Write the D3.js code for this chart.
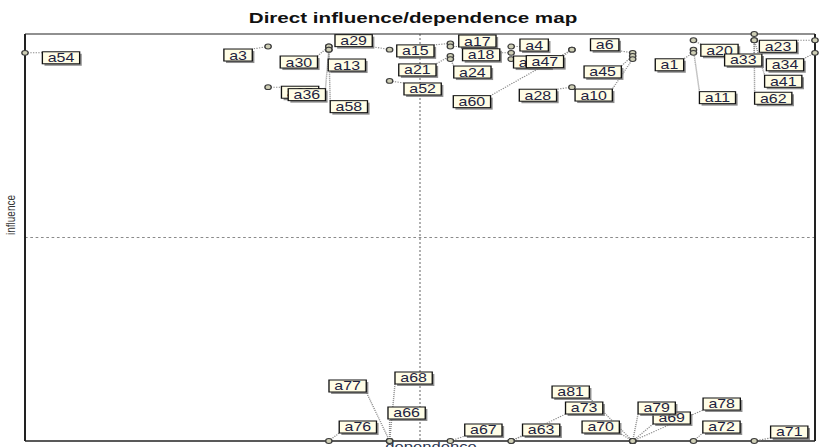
<!DOCTYPE html>
<html>
<head>
<meta charset="utf-8">
<script src="https://cdn.jsdelivr.net/npm/d3@7"></script>
<style>
  html, body { margin: 0; padding: 0; background: #ffffff; }
  svg { display: block; }
  text { font-family: "Liberation Sans", Arial, sans-serif; }
</style>
</head>
<body>
<div id="chart"></div>
<script>
// Variables of the direct influence/dependence map (draw order = array order)
const labels = [
  "a54", "a3", "a29", "a30", "a13", "a35", "a36", "a58", "a52",
  "a15", "a17", "a21", "a24", "a4", "a18", "a44", "a47", "a60", "a28",
  "a6", "a45", "a10", "a20", "a11", "a1", "a33", "a41", "a62", "a23", "a34",
  "a76", "a77", "a68", "a66", "a67", "a63", "a73", "a81", "a70", "a69", "a79", "a78", "a72", "a71"
];
// Direct dependence (x) of each variable
const dependence = [
  0, 4, 6, 5, 5, 4, 5, 5, 6,
  7, 7, 7, 7, 8, 8, 8, 9, 9, 9,
  10, 10, 10, 11, 11, 11, 12, 12, 12, 13, 13,
  5, 6, 6, 6, 7, 8, 8, 10, 10, 10, 10, 10, 11, 12
];
// Direct influence (y) of each variable
const influence = [
  124, 126, 125, 126, 126, 113, 125, 125, 115,
  127, 126, 123, 122, 126, 124, 122, 125, 125, 113,
  124, 123, 122, 128, 125, 124, 130, 128, 128, 128, 124,
  0, 0, 0, 0, 0, 0, 0, 0, 0, 0, 0, 0, 0, 0
];
const dependenceDomain = [0, 13];
const influenceDomain = [0, 130];

// Label placement: offset of each label centre from its point (px)
const labelDx = [
  36, -30, -36, -30, 18, 32, -22, 20, 33,
  -35, 27, -33, 22, 23, -30, 21, -27, -100, -34,
  -28, -30, -39, 26, 24, -24, -11, 29, 19, -37, -30,
  29, -42, 24, 17, 33, 30, 73, -62, -32, 39, 24, 89, 28, 35
];
const labelDy = [
  5, 8.5, -9, 15.5, 18.5, 5, 45, 57, 8,
  7.5, -5.5, 14, 13, -1.5, 2, 3, 12, 52, 8,
  -8, 16, 36, 10, 48, 12, 26, 41, 58, 6, 12,
  -14, -55, -63, -28, -11, -11, -33, -49, -14, -23, -33, -37, -14, -9
];

const W = 820, H = 447;
const SX = 1.33; // horizontal stretch of the whole drawing
const frame = { left: 25, right: 815, top: 34, bottom: 441 };

const svg = d3.select("#chart").append("svg")
  .attr("width", W).attr("height", H);

const g = svg.append("g").attr("transform", `scale(${SX},1)`);

const x = d3.scaleLinear().domain(dependenceDomain).range([frame.left / SX, frame.right / SX]);
const y = d3.scaleLinear().domain(influenceDomain).range([frame.bottom, frame.top]);

// Title
g.append("text")
  .attr("x", 413 / SX).attr("y", 23.5)
  .attr("text-anchor", "middle")
  .attr("font-size", 15.5).attr("font-weight", "bold")
  .attr("fill", "#111")
  .text("Direct influence/dependence map");

// Quadrant dividers
const xm = x((dependenceDomain[0] + dependenceDomain[1]) / 2);
const ym = y((influenceDomain[0] + influenceDomain[1]) / 2);
g.append("line")
  .attr("x1", xm).attr("x2", xm).attr("y1", frame.top).attr("y2", frame.bottom)
  .attr("stroke", "#8a8a8a").attr("stroke-width", 1).attr("stroke-dasharray", "2,2");
g.append("line")
  .attr("x1", x.range()[0]).attr("x2", x.range()[1]).attr("y1", ym).attr("y2", ym)
  .attr("stroke", "#8a8a8a").attr("stroke-width", 1).attr("stroke-dasharray", "2,2");

// Frame
const fx0 = x.range()[0], fx1 = x.range()[1];
g.append("line").attr("x1", fx0).attr("x2", fx1).attr("y1", frame.top).attr("y2", frame.top)
  .attr("stroke", "#222").attr("stroke-width", 1);
g.append("line").attr("x1", fx0).attr("x2", fx1).attr("y1", frame.bottom).attr("y2", frame.bottom)
  .attr("stroke", "#222").attr("stroke-width", 1.3);
g.append("line").attr("x1", fx0).attr("x2", fx0).attr("y1", frame.top).attr("y2", frame.bottom)
  .attr("stroke", "#222").attr("stroke-width", 1.5);
g.append("line").attr("x1", fx1).attr("x2", fx1).attr("y1", frame.top).attr("y2", frame.bottom)
  .attr("stroke", "#222").attr("stroke-width", 1.5);

// Axis titles
g.append("text")
  .attr("transform", `translate(${14.5 / SX},215) rotate(-90)`)
  .attr("text-anchor", "middle")
  .attr("font-size", 10).attr("fill", "#333")
  .text("influence");
g.append("text")
  .attr("x", 431 / SX).attr("y", 451)
  .attr("text-anchor", "middle")
  .attr("font-size", 12.5).attr("fill", "#2a3550")
  .text("dependence");

// Build node records
const nodes = labels.map((name, i) => ({
  name,
  px: x(dependence[i]),
  py: y(influence[i]),
  lx: x(dependence[i]) + labelDx[i] / SX,
  ly: y(influence[i]) + labelDy[i]
}));

// Measure label widths
const measure = g.append("text").attr("font-size", 12).attr("visibility", "hidden");
nodes.forEach(n => {
  measure.text(n.name);
  n.w = measure.node().getComputedTextLength() + 8;
  n.h = 12;
  n.rx = n.lx - n.w / 2;
  n.ry = n.ly - n.h / 2;
});
measure.remove();

const clamp = (v, a, b) => Math.max(a, Math.min(b, v));

// Dotted connectors from point to label box
g.append("g").selectAll("line").data(nodes).join("line")
  .attr("x1", d => d.px).attr("y1", d => d.py)
  .attr("x2", d => clamp(d.px, d.rx, d.rx + d.w))
  .attr("y2", d => clamp(d.py, d.ry, d.ry + d.h))
  .attr("stroke", "#8c8c8c").attr("stroke-width", 1.1).attr("stroke-dasharray", "1,1");

// Points
g.append("g").selectAll("circle").data(nodes).join("circle")
  .attr("cx", d => d.px).attr("cy", d => d.py).attr("r", 2.4)
  .attr("fill", "#cfcfb6").attr("stroke", "#3c3c3c").attr("stroke-width", 1);

// Labels
const lab = g.append("g").selectAll("g").data(nodes).join("g");
lab.append("rect")
  .attr("x", d => d.rx + 1.6).attr("y", d => d.ry + 2)
  .attr("width", d => d.w).attr("height", d => d.h)
  .attr("fill", "#6a6a6a").attr("opacity", 0.75);
lab.append("rect")
  .attr("x", d => d.rx).attr("y", d => d.ry)
  .attr("width", d => d.w).attr("height", d => d.h)
  .attr("fill", "#fffde6").attr("stroke", "#111").attr("stroke-width", 1);
lab.append("text")
  .attr("x", d => d.lx).attr("y", d => d.ry + d.h - 1.5)
  .attr("text-anchor", "middle")
  .attr("font-size", 12).attr("fill", "#1e2340")
  .text(d => d.name);
</script>
</body>
</html>
